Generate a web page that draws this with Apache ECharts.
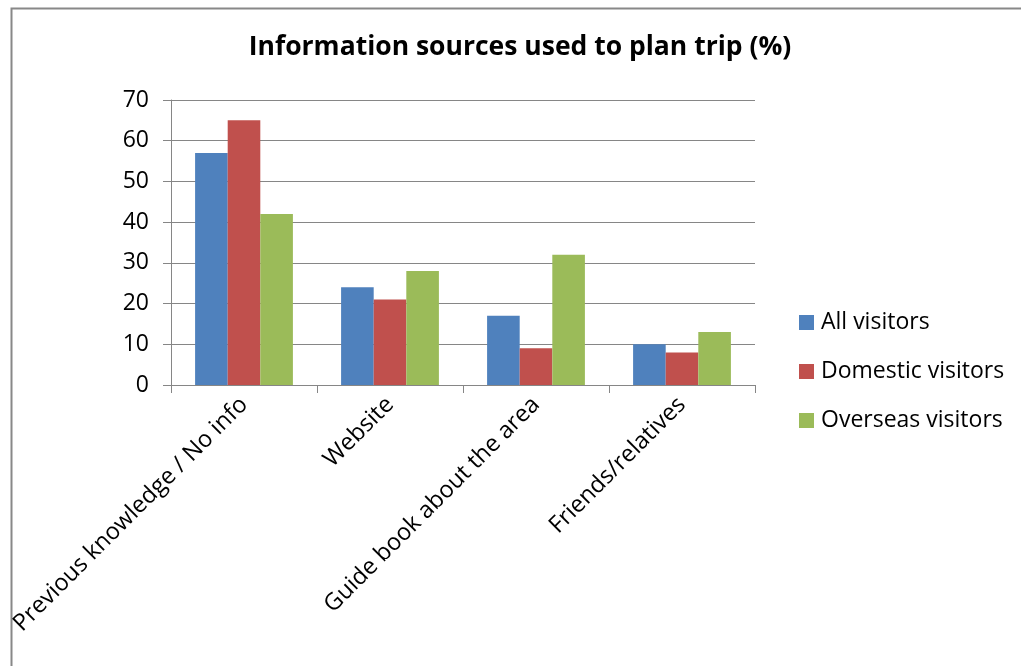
<!DOCTYPE html>
<html>
<head>
<meta charset="utf-8">
<script src="https://cdn.jsdelivr.net/npm/echarts@6/dist/echarts.min.js"></script>
<style>
  html, body { margin: 0; padding: 0; background: #fff; }
  #chart { width: 1021px; height: 666px; }
</style>
</head>
<body>
<div id="chart"></div>
<script>
// Information sources used to plan a trip, by visitor group (%)
const categories = ['Previous knowledge / No info', 'Website', 'Guide book about the area', 'Friends/relatives'];
const allVisitors = [57, 24, 17, 10];
const domesticVisitors = [65, 21, 9, 8];
const overseasVisitors = [42, 28, 32, 13];
const yTicks = { min: 0, max: 70, interval: 10 };

const FONT = '"Open Sans", sans-serif';
const chart = echarts.init(document.getElementById('chart'));

function bar(name, data, color) {
  return {
    name, type: 'bar', data,
    barGap: '0%', barCategoryGap: '33%',
    itemStyle: { color },
    animation: false
  };
}

chart.setOption({
  animation: false,
  title: {
    text: 'Information sources used to plan trip (%)',
    left: 515, top: 29, textAlign: 'center',
    textStyle: { fontFamily: FONT, fontSize: 26.5, fontWeight: 'bold', color: '#000' }
  },
  graphic: [{
    type: 'rect', left: 9, top: 6,
    shape: { width: 1100, height: 700 },
    style: { fill: 'none', stroke: '#888', lineWidth: 2 },
    silent: true
  }],
  legend: {
    orient: 'vertical', left: 794, top: 306,
    itemWidth: 15, itemHeight: 15, itemGap: 26,
    icon: 'rect',
    textStyle: { fontFamily: FONT, fontSize: 23, color: '#000', padding: [0, 0, 0, 2] },
    data: ['All visitors', 'Domestic visitors', 'Overseas visitors']
  },
  grid: { left: 171, top: 100, right: 266, bottom: 281, containLabel: false },
  xAxis: {
    type: 'category', data: categories,
    axisLine: { lineStyle: { color: '#868686', width: 1 } },
    axisTick: { show: true, length: 8, lineStyle: { color: '#868686' } },
    axisLabel: {
      rotate: 45, interval: 0, margin: 16,
      fontFamily: FONT, fontSize: 23.5, color: '#000'
    }
  },
  yAxis: {
    type: 'value', min: yTicks.min, max: yTicks.max, interval: yTicks.interval,
    axisLine: { show: true, lineStyle: { color: '#868686', width: 1 } },
    axisTick: { show: true, length: 8, lineStyle: { color: '#868686' } },
    splitLine: { lineStyle: { color: '#868686', width: 1 } },
    axisLabel: { margin: 22, fontFamily: FONT, fontSize: 23, color: '#000' }
  },
  series: [
    bar('All visitors', allVisitors, '#4F81BD'),
    bar('Domestic visitors', domesticVisitors, '#C0504D'),
    bar('Overseas visitors', overseasVisitors, '#9BBB59')
  ]
});
</script>
</body>
</html>
